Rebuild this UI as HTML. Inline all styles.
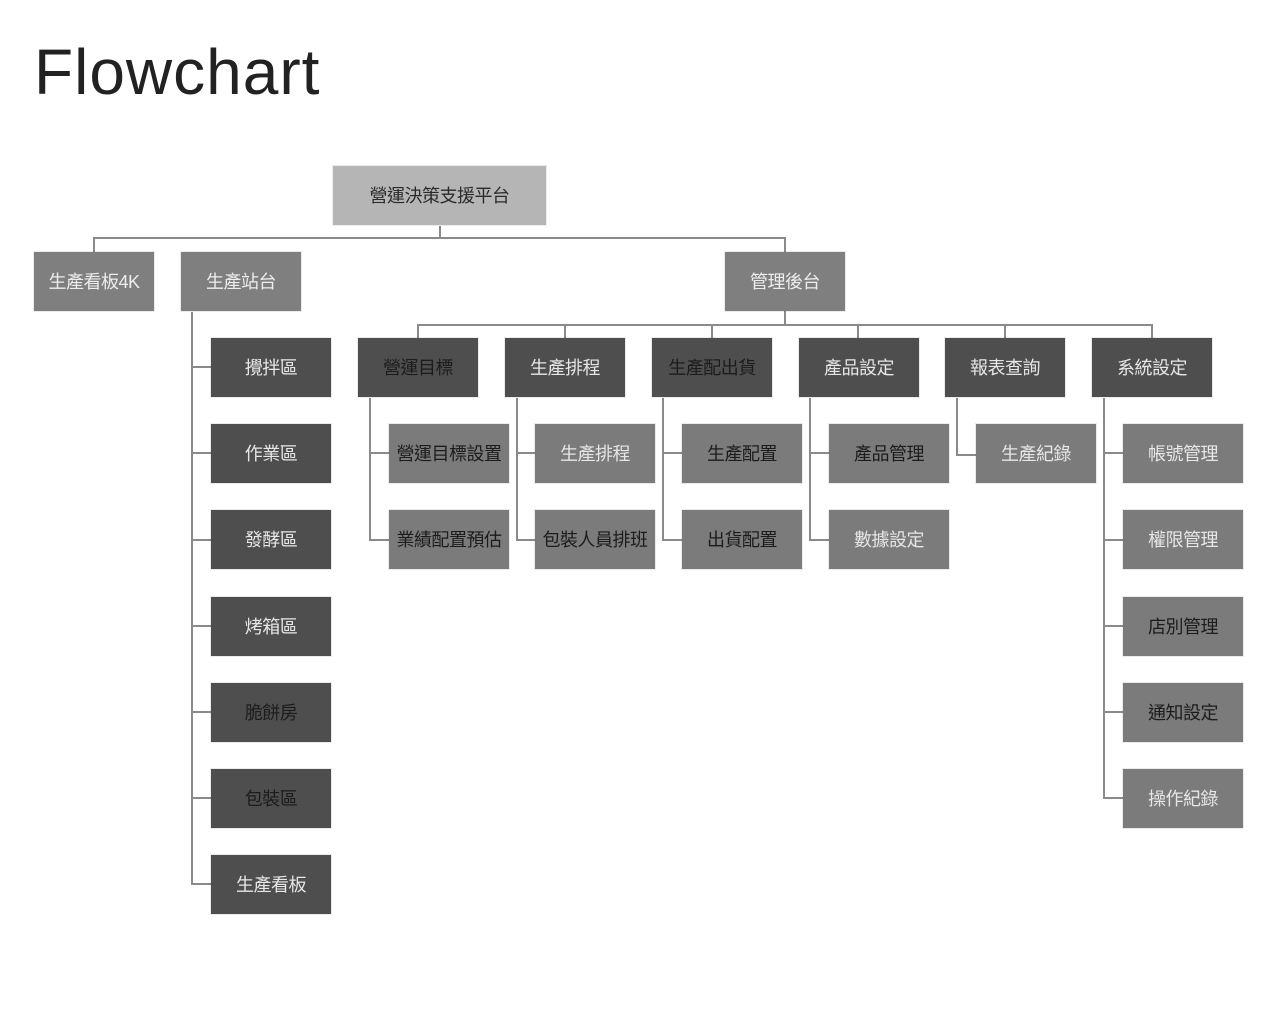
<!DOCTYPE html>
<html><head><meta charset="utf-8"><style>
html,body{margin:0;padding:0;background:#fff;width:1280px;height:1024px;overflow:hidden}
body{position:relative;font-family:"Liberation Sans","Noto Sans CJK TC",sans-serif}
.t{position:absolute;left:34px;top:34px;font-size:64px;color:#222;line-height:76px;letter-spacing:1px}
.n{position:absolute;width:120px;height:59px;line-height:61px;text-align:center;font-size:18px;white-space:nowrap;letter-spacing:-0.5px;box-shadow:0 0 0 1px rgba(0,0,0,0.08)}
.r{background:#b5b5b5;color:#2a2a2a}
.a{background:#7f7f7f;color:#ececec}
.d{background:#4e4e4e}
.l{background:#7b7b7b}
.k{color:#1c1c1c}.w{color:#e6e6e6}
svg{position:absolute;left:0;top:0}
</style></head><body>
<div class="t">Flowchart</div>
<svg width="1280" height="1024"><g stroke="#8a8a8a" stroke-width="2" fill="none">
<path d="M440 226V238M94 252V238H785V252"/>
<path d="M785 311V325M418 338V325H1152V338M565 325V338M712 325V338M858 325V338M1005 325V338"/>
<path d="M192 312V884H211M192 367H211M192 453H211M192 540H211M192 626H211M192 712H211M192 798H211"/>
<path d="M370 398V540H389M370 453H389"/>
<path d="M517 398V540H536M517 453H536"/>
<path d="M663 398V540H682M663 453H682"/>
<path d="M810 398V540H829M810 453H829"/>
<path d="M957 398V455H976"/>
<path d="M1104 398V798H1123M1104 453H1123M1104 540H1123M1104 626H1123M1104 712H1123"/>
</g></svg>
<div class="n r" style="left:333px;top:166px;width:213px">營運決策支援平台</div>
<div class="n a" style="left:34px;top:252px">生產看板4K</div>
<div class="n a" style="left:181px;top:252px">生產站台</div>
<div class="n a" style="left:725px;top:252px">管理後台</div>

<div class="n d k" style="left:358px;top:338px">營運目標</div>
<div class="n d w" style="left:505px;top:338px">生產排程</div>
<div class="n d k" style="left:652px;top:338px">生產配出貨</div>
<div class="n d w" style="left:799px;top:338px">產品設定</div>
<div class="n d w" style="left:945px;top:338px">報表查詢</div>
<div class="n d w" style="left:1092px;top:338px">系統設定</div>

<div class="n d w" style="left:211px;top:338px">攪拌區</div>
<div class="n d w" style="left:211px;top:424px">作業區</div>
<div class="n d w" style="left:211px;top:510px">發酵區</div>
<div class="n d w" style="left:211px;top:597px">烤箱區</div>
<div class="n d k" style="left:211px;top:683px">脆餅房</div>
<div class="n d k" style="left:211px;top:769px">包裝區</div>
<div class="n d w" style="left:211px;top:855px">生產看板</div>

<div class="n l k" style="left:389px;top:424px">營運目標設置</div>
<div class="n l k" style="left:389px;top:510px">業績配置預估</div>
<div class="n l w" style="left:535px;top:424px">生產排程</div>
<div class="n l k" style="left:535px;top:510px">包裝人員排班</div>
<div class="n l k" style="left:682px;top:424px">生產配置</div>
<div class="n l k" style="left:682px;top:510px">出貨配置</div>
<div class="n l k" style="left:829px;top:424px">產品管理</div>
<div class="n l w" style="left:829px;top:510px">數據設定</div>
<div class="n l w" style="left:976px;top:424px">生產紀錄</div>
<div class="n l w" style="left:1123px;top:424px">帳號管理</div>
<div class="n l w" style="left:1123px;top:510px">權限管理</div>
<div class="n l k" style="left:1123px;top:597px">店別管理</div>
<div class="n l k" style="left:1123px;top:683px">通知設定</div>
<div class="n l w" style="left:1123px;top:769px">操作紀錄</div>
</body></html>
